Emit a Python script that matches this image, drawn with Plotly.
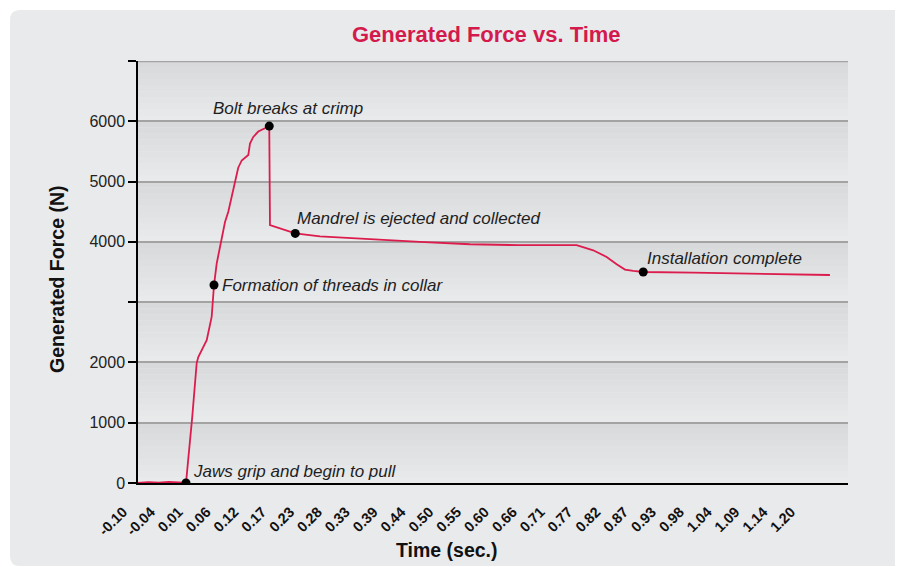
import plotly.graph_objects as go

# ---------------- data ----------------
time_s = [-0.100, -0.080, -0.060, -0.040, -0.020, -0.0066, 0.0056, 0.0100, 0.0142, 0.0173,
          0.0250, 0.0337, 0.0434, 0.0479, 0.0531, 0.0628, 0.0693, 0.0757, 0.0820, 0.0887,
          0.0950, 0.1018, 0.1101, 0.1146, 0.1179, 0.1243, 0.1340, 0.1438, 0.1554, 0.1568,
          0.1632, 0.1763, 0.1893, 0.2060, 0.2541, 0.3514, 0.4486, 0.5459, 0.6400, 0.7210,
          0.7535, 0.7858, 0.8119, 0.8313, 0.8475, 0.8636, 0.8831, 0.9804, 1.1101, 1.2463]
force_n = [0, 15, 5, 20, 10, 0, 1100, 1600, 1990, 2090,
           2220, 2370, 2760, 3284, 3640, 4080, 4330, 4500, 4750, 5020,
           5230, 5350, 5410, 5440, 5630, 5740, 5830, 5870, 5920, 4280,
           4260, 4220, 4180, 4140, 4090, 4040, 4000, 3960, 3945, 3945,
           3945, 3860, 3750, 3630, 3540, 3520, 3500, 3490, 3465, 3450]

event_time = [-0.0066, 0.0479, 0.1554, 0.2060, 0.8831]
event_force = [0, 3284, 5920, 4140, 3500]
event_label = ["Jaws grip and begin to pull", "Formation of threads in collar",
               "Bolt breaks at crimp", "Mandrel is ejected and collected",
               "Installation complete"]

x_tick_labels = ["-0.10", "-0.04", "0.01", "0.06", "0.12", "0.17", "0.23", "0.28", "0.33",
                 "0.39", "0.44", "0.50", "0.55", "0.60", "0.66", "0.71", "0.77", "0.82",
                 "0.87", "0.93", "0.98", "1.04", "1.09", "1.14", "1.20"]
x_tick_start, x_tick_end = -0.10, 1.20
y_tick_vals = [0, 1000, 2000, 3000, 4000, 5000, 6000, 7000]
y_tick_labels = ["0", "1000", "2000", "", "4000", "5000", "6000", ""]

# ---------------- layout constants ----------------
OFF = 8                      # page body margin
W, H = 903 - OFF, 567 - OFF
# plot area in page pixels: x 138..848, y 61..483
ML, MT = 138 - OFF, 61 - OFF
MR = W - (848 - OFF)
MB = H - (483 - OFF)
PW, PH = W - ML - MR, H - MT - MB

def px_x(px):
    return (px - 138) / PW

def px_y(py):
    return (483 - py) / PH

LINE_RED = "#db1c4d"
TITLE_RED = "#d41a4c"
FONT = "Liberation Sans, Arial, sans-serif"

n = len(x_tick_labels)
step = (x_tick_end - x_tick_start) / (n - 1)
x_tick_vals = [x_tick_start + i * step for i in range(n)]

fig = go.Figure()

fig.add_trace(go.Scatter(x=time_s, y=force_n, mode="lines",
                         line=dict(color=LINE_RED, width=1.8), hoverinfo="skip",
                         showlegend=False))
fig.add_trace(go.Scatter(x=event_time, y=event_force, mode="markers",
                         marker=dict(color="black", size=9), showlegend=False))

shapes = []
# rounded background panel
x0, x1 = px_x(10), px_x(912)
yt, yb = px_y(10), px_y(566)
dx, dy = 10 / PW, 10 / PH
path = (f"M {x0+dx},{yt} L {x1},{yt} L {x1},{yb} L {x0+dx},{yb} "
        f"Q {x0},{yb} {x0},{yb+dy} L {x0},{yt-dy} Q {x0},{yt} {x0+dx},{yt} Z")
shapes.append(dict(type="path", path=path, xref="paper", yref="paper",
                   fillcolor="#e9eaec", line=dict(width=0), layer="below"))

# gradient bands between gridlines (darker at top)
top_c = (0xd7, 0xd8, 0xda)
bot_c = (0xea, 0xeb, 0xec)
strips = 10
for k in range(len(y_tick_vals) - 1):
    lo, hi = y_tick_vals[k], y_tick_vals[k + 1]
    for s in range(strips):
        f = (s + 0.5) / strips
        c = tuple(round(bot_c[i] + (top_c[i] - bot_c[i]) * f) for i in range(3))
        shapes.append(dict(type="rect", xref="paper", yref="y",
                           x0=0, x1=1,
                           y0=lo + (hi - lo) * s / strips,
                           y1=lo + (hi - lo) * (s + 1) / strips,
                           fillcolor="rgb(%d,%d,%d)" % c, line=dict(width=0),
                           layer="below"))
# top border line
shapes.append(dict(type="line", xref="paper", yref="y", x0=0, x1=1,
                   y0=y_tick_vals[-1], y1=y_tick_vals[-1],
                   line=dict(color="#a3a3a3", width=2.5), layer="below"))

annotations = []
# event annotations: (xanchor, xshift, yshift)
ann_pos = [("left", 5, 12), ("left", 6, 0), ("center", 19, 18),
           ("left", 0, 15), ("left", 2, 14)]
for t, f_, lab, (xa, xs, ys) in zip(event_time, event_force, event_label, ann_pos):
    annotations.append(dict(x=t, y=f_, xref="x", yref="y", text="<i>" + lab + "</i>",
                            showarrow=False, xanchor=xa, yanchor="middle",
                            xshift=xs, yshift=ys,
                            font=dict(family=FONT, size=17, color="#1e1e1e")))

annotations.append(dict(x=px_x(486), y=px_y(35), xref="paper", yref="paper",
                        text="<b>Generated Force vs. Time</b>", showarrow=False,
                        xanchor="center", yanchor="middle",
                        font=dict(family=FONT, size=22, color=TITLE_RED)))
annotations.append(dict(x=px_x(447), y=px_y(550), xref="paper", yref="paper",
                        text="<b>Time (sec.)</b>", showarrow=False,
                        xanchor="center", yanchor="middle",
                        font=dict(family=FONT, size=19.5, color="#111111")))
annotations.append(dict(x=px_x(57), y=px_y(280), xref="paper", yref="paper",
                        text="<b>Generated Force (N)</b>", showarrow=False,
                        textangle=-90, xanchor="center", yanchor="middle",
                        font=dict(family=FONT, size=19.5, color="#111111")))

fig.update_layout(
    width=W, height=H,
    margin=dict(l=ML, r=MR, t=MT, b=MB, pad=0),
    paper_bgcolor="white",
    plot_bgcolor="rgba(0,0,0,0)",
    shapes=shapes,
    annotations=annotations,
    showlegend=False,
    xaxis=dict(range=[-0.10, 1.2815], tickvals=x_tick_vals, ticktext=x_tick_labels,
               tickangle=-45, ticks="", showgrid=False, zeroline=False,
               showline=True, linecolor="black", linewidth=1.5,
               ticklabelstandoff=13, ticklabelshift=-15,
               tickfont=dict(family=FONT, size=14.5, color="#111111", weight="bold")),
    yaxis=dict(range=[0, 7000], tickvals=y_tick_vals, ticktext=y_tick_labels,
               ticks="outside", ticklen=8, tickwidth=1.5, tickcolor="black",
               showgrid=True, gridcolor="#a3a3a3", gridwidth=2,
               zeroline=False, showline=True, linecolor="black", linewidth=1.5,
               tickfont=dict(family=FONT, size=16, color="#222222")),
)

fig.write_html("out.html")
